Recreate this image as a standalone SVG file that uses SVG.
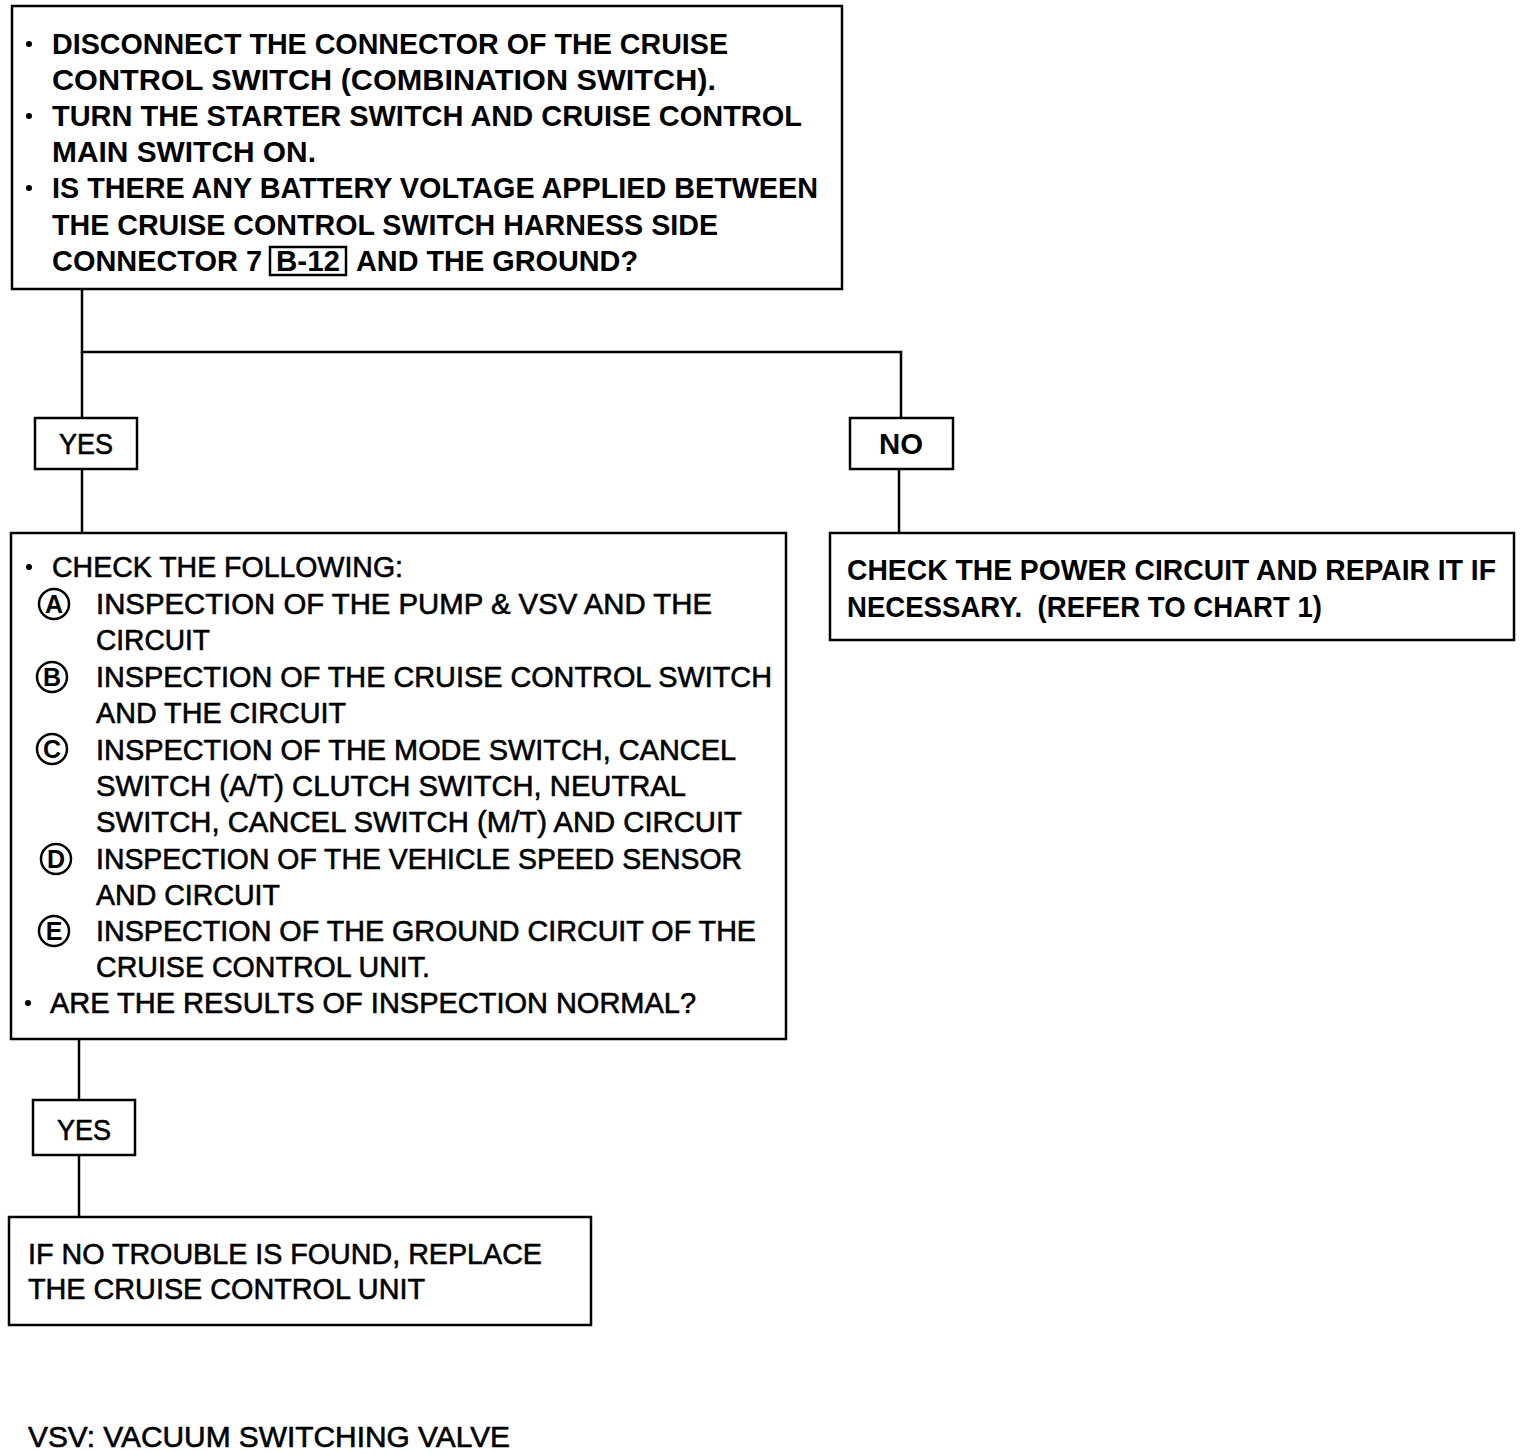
<svg xmlns="http://www.w3.org/2000/svg" width="1536" height="1454" viewBox="0 0 1536 1454">
<style>
.box{fill:#fff;stroke:#000;stroke-width:2.5}
.t{font-family:"Liberation Sans",Arial,sans-serif;font-size:29px;fill:#000;stroke:#000;stroke-width:0.6}
.tb{font-family:"Liberation Sans",Arial,sans-serif;font-size:30px;font-weight:bold;fill:#000}
.c{font-family:"Liberation Sans",Arial,sans-serif;font-size:25px;font-weight:bold;fill:#000;text-anchor:middle}
.ring{fill:none;stroke:#000;stroke-width:2.5}
.ln{fill:none;stroke:#000;stroke-width:2.5}
</style>
<rect width="1536" height="1454" fill="#fff"/>
<g id="connectors">
<polyline class="ln" points="82,289 82,352 901,352 901,418"/>
<line class="ln" x1="82" y1="418" x2="82" y2="352"/>
<line class="ln" x1="82" y1="469" x2="82" y2="533"/>
<line class="ln" x1="899" y1="469" x2="899" y2="533"/>
<line class="ln" x1="79" y1="1039" x2="79" y2="1100"/>
<line class="ln" x1="79" y1="1155" x2="79" y2="1217"/>
</g>
<g id="node-start">
<rect class="box" x="12" y="6" width="830" height="283"/>
<circle cx="29" cy="44" r="3"/>
<text class="tb" x="52" y="54" textLength="676" lengthAdjust="spacingAndGlyphs">DISCONNECT THE CONNECTOR OF THE CRUISE</text>
<text class="tb" x="52" y="90" textLength="664" lengthAdjust="spacingAndGlyphs">CONTROL SWITCH (COMBINATION SWITCH).</text>
<circle cx="29" cy="116" r="3"/>
<text class="tb" x="52" y="126" textLength="750" lengthAdjust="spacingAndGlyphs">TURN THE STARTER SWITCH AND CRUISE CONTROL</text>
<text class="tb" x="52" y="162" textLength="264" lengthAdjust="spacingAndGlyphs">MAIN SWITCH ON.</text>
<circle cx="29" cy="188" r="3"/>
<text class="tb" x="52" y="198" textLength="766" lengthAdjust="spacingAndGlyphs">IS THERE ANY BATTERY VOLTAGE APPLIED BETWEEN</text>
<text class="tb" x="52" y="235" textLength="666" lengthAdjust="spacingAndGlyphs">THE CRUISE CONTROL SWITCH HARNESS SIDE</text>
<text class="tb" x="52" y="271" textLength="210" lengthAdjust="spacingAndGlyphs">CONNECTOR 7</text>
<rect x="270" y="247" width="76" height="28" fill="none" stroke="#000" stroke-width="2.5"/>
<text class="tb" x="276" y="271" textLength="64" lengthAdjust="spacingAndGlyphs">B-12</text>
<text class="tb" x="356" y="271" textLength="282" lengthAdjust="spacingAndGlyphs">AND THE GROUND?</text>
</g>
<g id="node-yes1">
<rect class="box" x="35" y="418" width="102" height="51"/>
<text class="t" x="59" y="454" textLength="54" lengthAdjust="spacingAndGlyphs">YES</text>
</g>
<g id="node-no">
<rect class="box" x="850" y="418" width="103" height="51"/>
<text class="tb" x="879" y="454" textLength="44" lengthAdjust="spacingAndGlyphs">NO</text>
</g>
<g id="node-check">
<rect class="box" x="11" y="533" width="775" height="506"/>
<circle cx="29" cy="567" r="3"/>
<text class="t" x="52" y="577" textLength="351" lengthAdjust="spacingAndGlyphs">CHECK THE FOLLOWING:</text>
<circle class="ring" cx="54" cy="604" r="15"/><text class="c" x="54" y="613">A</text>
<text class="t" x="96" y="614" textLength="616" lengthAdjust="spacingAndGlyphs">INSPECTION OF THE PUMP &amp; VSV AND THE</text>
<text class="t" x="96" y="650" textLength="114" lengthAdjust="spacingAndGlyphs">CIRCUIT</text>
<circle class="ring" cx="52" cy="677" r="15"/><text class="c" x="52" y="686">B</text>
<text class="t" x="96" y="687" textLength="676" lengthAdjust="spacingAndGlyphs">INSPECTION OF THE CRUISE CONTROL SWITCH</text>
<text class="t" x="96" y="723" textLength="250" lengthAdjust="spacingAndGlyphs">AND THE CIRCUIT</text>
<circle class="ring" cx="52" cy="749" r="15"/><text class="c" x="52" y="758">C</text>
<text class="t" x="96" y="760" textLength="640" lengthAdjust="spacingAndGlyphs">INSPECTION OF THE MODE SWITCH, CANCEL</text>
<text class="t" x="96" y="796" textLength="590" lengthAdjust="spacingAndGlyphs">SWITCH (A/T) CLUTCH SWITCH, NEUTRAL</text>
<text class="t" x="96" y="832" textLength="646" lengthAdjust="spacingAndGlyphs">SWITCH, CANCEL SWITCH (M/T) AND CIRCUIT</text>
<circle class="ring" cx="56" cy="859" r="15"/><text class="c" x="56" y="868">D</text>
<text class="t" x="96" y="869" textLength="646" lengthAdjust="spacingAndGlyphs">INSPECTION OF THE VEHICLE SPEED SENSOR</text>
<text class="t" x="96" y="905" textLength="184" lengthAdjust="spacingAndGlyphs">AND CIRCUIT</text>
<circle class="ring" cx="54" cy="931" r="15"/><text class="c" x="54" y="940">E</text>
<text class="t" x="96" y="941" textLength="660" lengthAdjust="spacingAndGlyphs">INSPECTION OF THE GROUND CIRCUIT OF THE</text>
<text class="t" x="96" y="977" textLength="334" lengthAdjust="spacingAndGlyphs">CRUISE CONTROL UNIT.</text>
<circle cx="28" cy="1003" r="3"/>
<text class="t" x="50" y="1013" textLength="646" lengthAdjust="spacingAndGlyphs">ARE THE RESULTS OF INSPECTION NORMAL?</text>
</g>
<g id="node-power">
<rect class="box" x="830" y="533" width="684" height="107"/>
<text class="tb" x="847" y="580" textLength="649" lengthAdjust="spacingAndGlyphs">CHECK THE POWER CIRCUIT AND REPAIR IT IF</text>
<text class="tb" x="847" y="617" textLength="475" lengthAdjust="spacingAndGlyphs" xml:space="preserve">NECESSARY.  (REFER TO CHART 1)</text>
</g>
<g id="node-yes2">
<rect class="box" x="33" y="1100" width="102" height="55"/>
<text class="t" x="57" y="1140" textLength="54" lengthAdjust="spacingAndGlyphs">YES</text>
</g>
<g id="node-replace">
<rect class="box" x="9" y="1217" width="582" height="108"/>
<text class="t" x="28" y="1264" textLength="514" lengthAdjust="spacingAndGlyphs">IF NO TROUBLE IS FOUND, REPLACE</text>
<text class="t" x="28" y="1299" textLength="397" lengthAdjust="spacingAndGlyphs">THE CRUISE CONTROL UNIT</text>
</g>
<g id="footnote">
<text class="t" x="28" y="1447" textLength="482" lengthAdjust="spacingAndGlyphs">VSV: VACUUM SWITCHING VALVE</text>
</g>
</svg>
